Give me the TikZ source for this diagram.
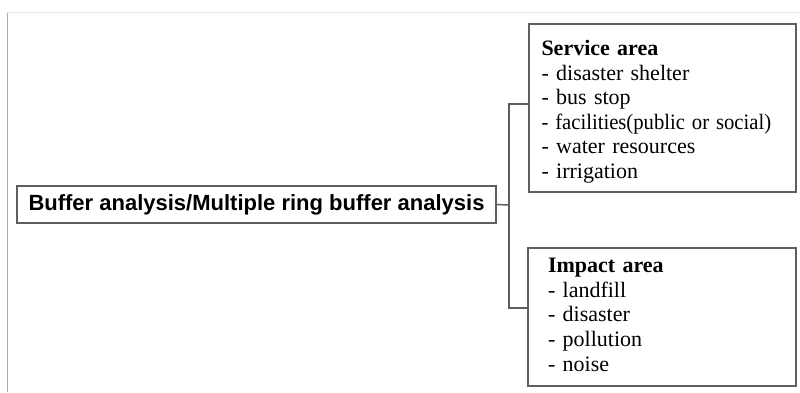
\documentclass[tikz,border=0pt]{standalone}
\usepackage{fontspec}
\setmainfont{Liberation Serif}
\newfontfamily\arialfont{Liberation Sans}
\usepackage{graphicx}
\usepackage{xcolor}
\usepackage{tikz}
\usetikzlibrary{positioning}
\definecolor{edge}{HTML}{5E5E5E}
\definecolor{frametop}{HTML}{E4E4E4}
\definecolor{frameleft}{HTML}{ABABAB}
\newcommand{\itemlist}[2][0pt]{\raisebox{#1}[\height][\depth]{\begin{tabular}{@{}l@{}}#2\end{tabular}}}

\begin{document}
\begin{tikzpicture}[x=0.5pt,y=-0.5pt,
  box/.style={draw=edge,line width=0.75pt,align=left,font=\fontsize{11}{12.3}\selectfont},
  conn/.style={draw=edge,line width=0.75pt}]
\useasboundingbox (0,0) rectangle (800,392);
% frame of the page
\draw[frametop,line width=0.6pt] (7,12.7) -- (800,12.7);
\draw[frameleft,line width=0.9pt] (7.5,13) -- (7.5,392);
\node[box,align=center,font=\arialfont\bfseries\fontsize{11}{12}\selectfont,
  minimum width=239.5pt,minimum height=18.5pt,inner sep=0pt] (buf) at (256.5,204.5)
  {Buffer analysis/Multiple ring buffer analysis};
\node[box,text width=121pt,inner xsep=6.25pt,minimum height=84pt] (svc) at (662.5,108)
  {\itemlist[-2pt]{\textbf{Service area}\\
   - disaster shelter\\
   - bus stop\\
   \scalebox{0.94}[1]{- facilities(public or social)}\\
   - water resources\\
   - irrigation}};
\node[box,text width=114pt,inner xsep=10pt,minimum height=69pt] (imp) at (662,317)
  {\itemlist{\textbf{Impact area}\\
   - landfill\\
   - disaster\\
   - pollution\\
   - noise}};
\coordinate (j) at (509,205);
\draw[conn] (buf.east) -- (j);
\draw[conn] ([yshift=2pt]svc.west) -| (j) |- ([yshift=4.5pt]imp.west);
\end{tikzpicture}
\end{document}
